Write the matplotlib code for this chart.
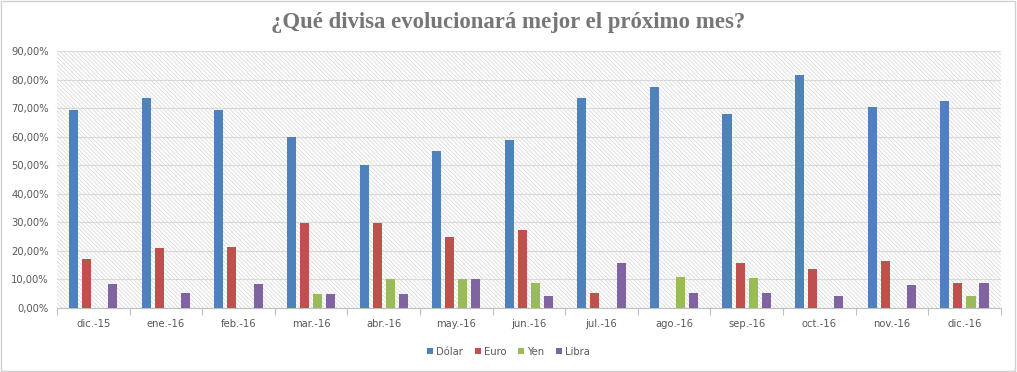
import matplotlib
matplotlib.use("Agg")
import matplotlib.pyplot as plt
import numpy as np
from matplotlib.patches import Rectangle

categories = ["dic.-15", "ene.-16", "feb.-16", "mar.-16", "abr.-16", "may.-16", "jun.-16",
              "jul.-16", "ago.-16", "sep.-16", "oct.-16", "nov.-16", "dic.-16"]
dolar = [69.5, 73.5, 69.5, 60.0, 50.0, 55.0, 59.0, 73.5, 77.5, 68.0, 81.5, 70.5, 72.5]
euro = [17.0, 21.0, 21.5, 29.7, 29.7, 25.0, 27.3, 5.3, 0.0, 15.8, 13.5, 16.5, 8.8]
yen = [0.0, 0.0, 0.0, 5.0, 10.0, 10.0, 8.8, 0.0, 11.0, 10.5, 0.0, 0.0, 4.3]
libra = [8.5, 5.3, 8.5, 5.0, 5.0, 10.0, 4.3, 15.8, 5.3, 5.3, 4.3, 8.0, 8.8]
series_names = ["Dólar", "Euro", "Yen", "Libra"]
colors = ["#4F81BD", "#C0504D", "#9BBB59", "#8064A2"]
title = "¿Qué divisa evolucionará mejor el próximo mes?"
yticks = [0, 10, 20, 30, 40, 50, 60, 70, 80, 90]

plt.rcParams['hatch.linewidth'] = 0.6
plt.rcParams['hatch.color'] = '#dadada'

fig = plt.figure(figsize=(10.17, 3.72), dpi=100)
fig.patches.append(Rectangle((0.001, 0.002), 0.997, 0.995, transform=fig.transFigure,
                             fill=False, edgecolor='#d0d0d0', linewidth=1.0))
ax = fig.add_axes([0.056, 0.172, 0.928, 0.691])

ax.add_patch(Rectangle((0, 0), 1, 1, transform=ax.transAxes, facecolor='white',
                       edgecolor='#dadada', hatch='\\' * 8, linewidth=0, zorder=0))

x = np.arange(len(categories))
w = 0.125
step = 0.18
for i, (vals, name, c) in enumerate(zip([dolar, euro, yen, libra], series_names, colors)):
    ax.bar(x + (i - 1.5) * step, vals, width=w, color=c, label=name, zorder=3)

ax.set_xlim(-0.5, len(categories) - 0.5)
ax.set_ylim(0, 90)
ax.set_yticks(yticks)
ax.set_yticklabels([f"{v:.2f}%".replace('.', ',') for v in yticks])
ax.yaxis.grid(True, color='#d9d9d9', linewidth=0.8, zorder=1)
ax.set_axisbelow(True)

ax.set_xticks(x)
ax.set_xticklabels(categories)
ax.set_xticks(np.arange(-0.5, len(categories), 1), minor=True)
ax.tick_params(axis='x', which='major', length=0, pad=8)
ax.tick_params(axis='x', which='minor', length=5, color='#bfbfbf', width=0.8)
ax.tick_params(axis='y', length=0, pad=6)
ax.tick_params(labelsize=7.2, labelcolor='#595959')

for s in ['top', 'right', 'left']:
    ax.spines[s].set_visible(False)
ax.spines['bottom'].set_color('#bfbfbf')
ax.spines['bottom'].set_linewidth(0.8)

fig.text(0.5, 0.940, title, ha='center', va='center', fontsize=16.4, color='#767676',
         family='Liberation Serif', fontweight='bold')

fig.legend(*ax.get_legend_handles_labels(), loc='center', bbox_to_anchor=(0.5, 0.055),
           ncol=4, frameon=False, fontsize=7.2, labelcolor='#595959',
           handlelength=0.6, handleheight=0.6, handletextpad=0.3, columnspacing=1.2)

fig.savefig("out.png", dpi=100)
